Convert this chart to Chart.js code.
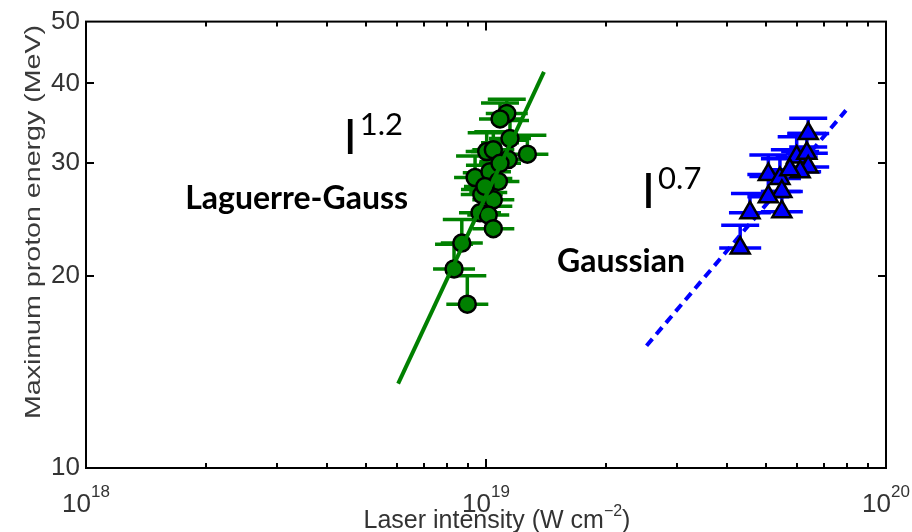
<!DOCTYPE html>
<html>
<head>
<meta charset="utf-8">
<script src="https://cdn.jsdelivr.net/npm/chart.js@4.4.0/dist/chart.umd.min.js"></script>
<style>
  html, body { margin: 0; padding: 0; background: #fff; }
  #wrap { width: 912px; height: 532px; position: relative; }
</style>
</head>
<body>
<div id="wrap"><canvas id="chart"></canvas></div>
<script>
// Laguerre-Gauss shots (green circles), energy in MeV, intensity in W/cm^2
const lgIntensity = [1.127e19, 1.084e19, 1.148e19, 1.269e19, 1.004e19, 1.043e19, 1.137e19, 9.39e18, 1.023e19, 1.074e19,
                     9.76e18, 1.043e19, 9.66e18, 1.013e19, 1.043e19, 8.70e18, 8.32e18, 8.98e18, 1.084e19, 9.94e18];
const lgEnergy     = [35.9, 35.2, 32.8, 31.0, 31.3, 31.5, 30.4, 28.5, 29.1, 28.1,
                      26.8, 26.3, 25.1, 24.9, 23.7, 22.5, 20.5, 18.05, 30.0, 27.6];
const lgEnergyHigh = [37.8, 37.3, 35.0, 33.2, 33.5, 33.6, 32.6, 30.8, 31.3, 30.2,
                      29.0, 28.4, 27.3, 27.0, 25.7, 24.5, 22.4, 20.0, 32.3, 29.8];

// Gaussian shots (blue triangles)
const gIntensity = [6.39e19, 5.98e19, 6.34e19, 6.39e19, 6.10e19, 5.08e19, 5.43e19, 5.49e19, 5.08e19, 5.49e19, 4.57e19, 4.32e19, 5.75e19];
const gEnergy     = [33.4, 30.7, 31.1, 29.6, 29.1, 28.8, 28.4, 27.1, 26.6, 25.2, 25.1, 22.1, 29.3];
const gEnergyHigh = [35.3, 33.0, 33.4, 31.8, 31.3, 30.9, 30.5, 29.1, 28.6, 27.1, 26.9, 24.0, 31.5];

// power-law fits (end points)
const lgFitIntensity = [6.03e18, 1.396e19];
const lgFitEnergy    = [13.56, 41.7];
const gFitIntensity  = [2.52e19, 7.94e19];
const gFitEnergy     = [15.54, 36.3];

// axes
const yTicks = [10, 20, 30, 40, 50];
const xDecades = [1e18, 1e19, 1e20];
const xExponents = ['18', '19', '20'];

// text labels placed in data coordinates
const notes = [
  { text: 'Laguerre-Gauss', x: 1.77e18, y: 25.4, font: 'bold 32px Lato' },
  { text: 'I', x: 4.40e18, y: 31.0, font: '48px Lato', sup: '1.2' },
  { text: 'Gaussian', x: 1.505e19, y: 20.3, font: 'bold 32px Lato' },
  { text: 'I', x: 2.45e19, y: 25.5, font: '48px Lato', sup: '0.7' }
];

const NARROW = "'Liberation Sans Narrow', 'Liberation Sans', Arial, sans-serif";
const TEXT = '#333';

const pts = (xs, ys) => xs.map((x, i) => ({ x: x, y: ys[i] }));

// error bars: vertical bar up to the upper value, caps at the point and at the top
const errorBars = {
  id: 'errorBars',
  beforeDatasetsDraw(chart) {
    const { ctx, scales: { x, y } } = chart;
    const sets = [
      [lgIntensity, lgEnergy, lgEnergyHigh, '#008000'],
      [gIntensity, gEnergy, gEnergyHigh, '#0000ff']
    ];
    ctx.save();
    ctx.lineWidth = 3.5;
    sets.forEach(([xs, ys, hs, col]) => {
      ctx.strokeStyle = col;
      xs.forEach((xv, i) => {
        const px = x.getPixelForValue(xv);
        const py = y.getPixelForValue(ys[i]);
        const pt = y.getPixelForValue(hs[i]);
        ctx.beginPath();
        ctx.moveTo(px, py); ctx.lineTo(px, pt);
        ctx.moveTo(px - 21, py); ctx.lineTo(px + 21, py);
        ctx.moveTo(px - 19, pt); ctx.lineTo(px + 19, pt);
        ctx.stroke();
      });
    });
    ctx.restore();
  }
};

// box, inward tick marks, x labels with exponents, axis titles, notes
const frame = {
  id: 'frame',
  afterDatasetsDraw(chart) {
    const { ctx, chartArea: a, scales: { x, y } } = chart;
    ctx.save();
    ctx.strokeStyle = '#000';
    ctx.lineWidth = 2;
    ctx.strokeRect(a.left, a.top, a.right - a.left, a.bottom - a.top);

    ctx.beginPath();
    yTicks.slice(1, -1).forEach(v => {
      const py = Math.round(y.getPixelForValue(v));
      ctx.moveTo(a.left, py); ctx.lineTo(a.left + 8, py);
      ctx.moveTo(a.right, py); ctx.lineTo(a.right - 8, py);
    });
    [1e18, 1e19].forEach(d => {
      for (let m = 1; m <= 9; m++) {
        const v = d * m;
        if (v <= 1e18) continue;
        const px = Math.round(x.getPixelForValue(v));
        const len = m === 1 ? 9 : 5;
        ctx.moveTo(px, a.bottom); ctx.lineTo(px, a.bottom - len);
        ctx.moveTo(px, a.top); ctx.lineTo(px, a.top + len);
      }
    });
    ctx.stroke();

    // x tick labels 10^n
    ctx.fillStyle = TEXT;
    ctx.textBaseline = 'alphabetic';
    ctx.textAlign = 'left';
    xDecades.forEach((d, i) => {
      const px = x.getPixelForValue(d);
      ctx.font = '26px ' + NARROW;
      const w1 = ctx.measureText('10').width;
      ctx.font = '17px ' + NARROW;
      const w2 = ctx.measureText(xExponents[i]).width;
      const start = px - (w1 + w2) / 2;
      ctx.font = '26px ' + NARROW;
      ctx.fillText('10', start, 512);
      ctx.font = '17px ' + NARROW;
      ctx.fillText(xExponents[i], start + w1, 497);
    });

    // x title
    const t1 = 'Laser intensity (W cm', t2 = '\u22122', t3 = ')';
    ctx.font = '25px ' + NARROW;
    const a1 = ctx.measureText(t1).width, a3 = ctx.measureText(t3).width;
    ctx.font = '16px ' + NARROW;
    const a2 = ctx.measureText(t2).width;
    let sx = (a.left + a.right) / 2 + 11 - (a1 + a2 + a3) / 2;
    ctx.font = '25px ' + NARROW;
    ctx.fillText(t1, sx, 528);
    ctx.font = '16px ' + NARROW;
    ctx.fillText(t2, sx + a1, 516);
    ctx.font = '25px ' + NARROW;
    ctx.fillText(t3, sx + a1 + a2, 528);

    // y title
    ctx.save();
    ctx.translate(40, 222);
    ctx.rotate(-Math.PI / 2);
    ctx.scale(1.3, 1);
    ctx.font = "22px 'Liberation Sans', Arial, sans-serif";
    ctx.fillStyle = '#3a3a3a';
    ctx.textAlign = 'center';
    ctx.fillText('Maximum proton energy (MeV)', 0, 0);
    ctx.restore();

    // notes
    ctx.fillStyle = '#000';
    notes.forEach(n => {
      const px = x.getPixelForValue(n.x);
      const py = y.getPixelForValue(n.y);
      ctx.font = n.font;
      ctx.fillText(n.text, px, py);
      if (n.sup) {
        const w = ctx.measureText(n.text).width;
        ctx.font = '31px Lato';
        ctx.fillText(n.sup, px + w + 3, py - 19);
      }
    });
    ctx.restore();
  }
};

new Chart(document.getElementById('chart'), {
  type: 'scatter',
  data: {
    datasets: [
      {
        label: 'LG fit', data: pts(lgFitIntensity, lgFitEnergy), showLine: true,
        borderColor: '#008000', borderWidth: 4, pointRadius: 0, order: 0
      },
      {
        label: 'Laguerre-Gauss', data: pts(lgIntensity, lgEnergy), pointStyle: 'circle', pointRadius: 8.5,
        backgroundColor: '#008000', borderColor: '#000', borderWidth: 2.5, order: 1
      },
      {
        label: 'Gaussian', data: pts(gIntensity, gEnergy), pointStyle: 'triangle', pointRadius: 11,
        backgroundColor: '#0000ff', borderColor: '#000', borderWidth: 2.5, order: 1
      },
      {
        label: 'Gaussian fit', data: pts(gFitIntensity, gFitEnergy), showLine: true,
        borderColor: '#0000ff', borderWidth: 4, borderDash: [9, 6], pointRadius: 0, order: 2
      }
    ]
  },
  options: {
    responsive: true,
    maintainAspectRatio: false,
    animation: false,
    layout: { padding: { left: 0, top: 18, right: 26, bottom: 0 } },
    plugins: { legend: { display: false }, tooltip: { enabled: false } },
    scales: {
      x: {
        type: 'logarithmic', min: 1e18, max: 1e20,
        grid: { display: false, drawTicks: false },
        border: { display: false },
        ticks: { display: false },
        afterFit(s) { s.height = 64; }
      },
      y: {
        type: 'logarithmic', min: 10, max: 50,
        grid: { display: false, drawTicks: false },
        border: { display: false },
        afterBuildTicks(s) { s.ticks = yTicks.map(v => ({ value: v })); },
        ticks: {
          padding: 6, color: TEXT,
          font: { family: NARROW, size: 26 },
          callback: v => String(v)
        },
        afterFit(s) { s.width = 86; }
      }
    }
  },
  plugins: [errorBars, frame]
});
</script>
</body>
</html>
